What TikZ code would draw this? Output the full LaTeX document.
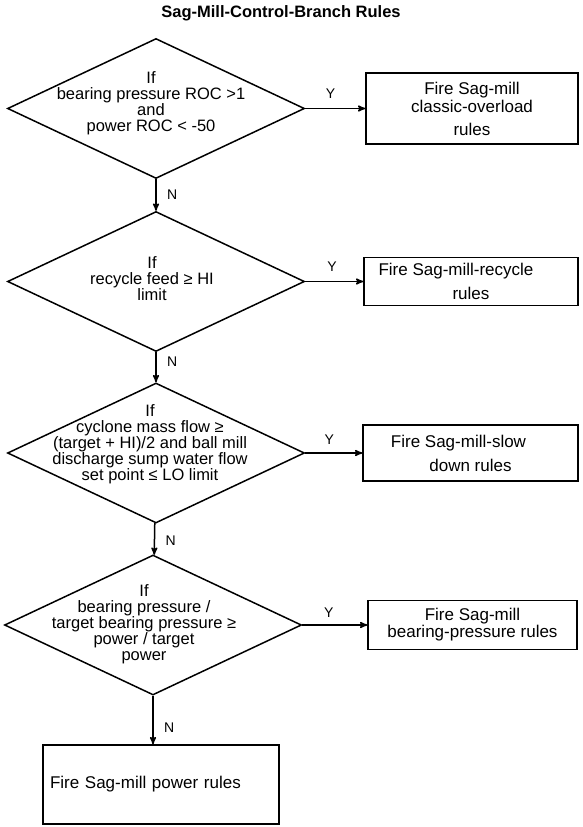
\documentclass[tikz,border=0pt]{standalone}
\usepackage{fontspec}
\setmainfont{Liberation Sans}
\usetikzlibrary{arrows,shapes,positioning}
\lineskiplimit=-\maxdimen

\begin{document}
\begin{tikzpicture}[x=1pt,y=-1pt,>=stealth',line width=1.5pt]
  \tikzstyle{decision}=[diamond,draw,minimum width=297pt,minimum height=140pt,inner sep=0pt]
  \tikzstyle{cond}=[align=center,inner sep=0pt,font=\fontsize{16.5}{16}\selectfont]
  \tikzstyle{rulebox}=[rectangle,draw,align=center,font=\fontsize{17}{24}\selectfont]
  \tikzstyle{yn}=[font=\fontsize{14}{14}\selectfont]
  \useasboundingbox (0,0) rectangle (583,827);
  \node [font=\bfseries\fontsize{16.5}{18}\selectfont] (title) at (281,13) {Sag-Mill-Control-Branch Rules};
  % decisions
  \node [decision] (d1) at (156,108.5) {};
  \node [decision] (d2) at (156,281.5) {};
  \node [decision] (d3) at (156,453) {};
  \node [decision] (d4) at (153,625) {};
  \node [cond] (c1) at (151,103) {If\\bearing pressure ROC >1\\and\\power ROC < -50};
  \node [cond] (c2) at (152,279) {If\\recycle feed ≥ HI\\limit};
  \node [cond] (c3) at (150,444) {If\\cyclone mass flow ≥\\(target + HI)/2 and ball mill\\discharge sump water flow\\set point ≤ LO limit};
  \node [cond] (c4) at (144,624) {If\\bearing pressure /\\target bearing pressure ≥\\power / target\\power};
  % rule boxes
  \node [rulebox,minimum width=212pt,minimum height=71pt] (r1) at (472,108.5) {Fire Sag-mill\\[-6pt]classic-overload\\[-1pt]rules};
  \node [rulebox,minimum width=214pt,minimum height=48pt] (r2) at (471,281.5) {Fire Sag-mill-recycle\hspace*{30pt}\\rules};
  \node [rulebox,minimum width=215pt,minimum height=56pt] (r3) at (470.5,453) {Fire Sag-mill-slow\hspace*{24pt}\\down rules};
  \node [rulebox,minimum width=209pt,minimum height=49pt] (r4) at (472.5,625) {Fire Sag-mill\\[-7pt]bearing-pressure rules};
  \node [rulebox,minimum width=236pt,minimum height=79pt,text width=222pt,align=left] (r5) at (161,784.5) {Fire Sag-mill power rules};
  % connectors
  \draw [->] (d1) -- node [yn,above,pos=0.42,yshift=6pt] {Y} (r1);
  \draw [->] (d2) -- node [yn,above,pos=0.46,yshift=6pt] {Y} (r2);
  \draw [->] (d3) -- node [yn,above,pos=0.42,yshift=4pt] {Y} (r3);
  \draw [->] (d4) -- node [yn,above,pos=0.41,yshift=3pt] {Y} (r4);
  \draw [->] (d1) -- node [yn,right,xshift=7pt] {N} (d2);
  \draw [->] (d2) -- node [yn,right,pos=0.3,xshift=7pt] {N} (d3);
  \draw [->] (d3) -- node [yn,right,pos=0.55,xshift=7pt] {N} (d4);
  \draw [->] (d4) -- node [yn,right,pos=0.66,xshift=7pt] {N} (d4 |- r5.north);
\end{tikzpicture}
\end{document}
